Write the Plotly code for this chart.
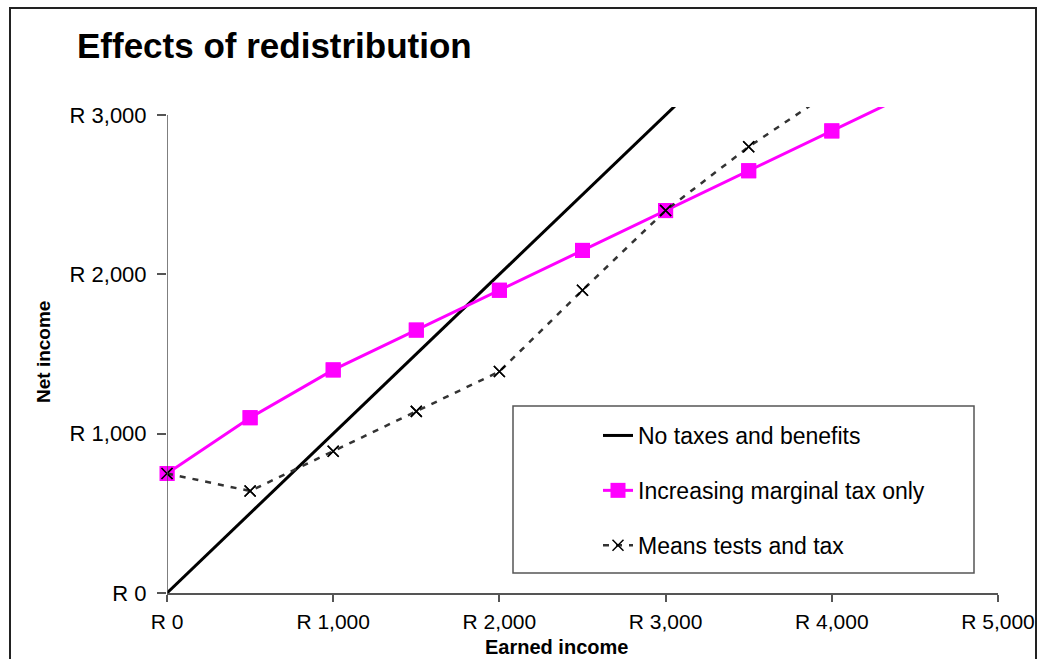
import plotly.graph_objects as go

# Earned income steps (Rand per month)
earned = [0, 500, 1000, 1500, 2000, 2500, 3000, 3500, 4000, 4500]

# Net income under each regime
no_taxes = [0, 500, 1000, 1500, 2000, 2500, 3000, 3500, 4000, 4500]
marginal_tax = [750, 1100, 1400, 1650, 1900, 2150, 2400, 2650, 2900, 3150]
means_tested = [750, 640, 890, 1140, 1390, 1900, 2400, 2800, 3150, 3500]

x_ticks = [0, 1000, 2000, 3000, 4000, 5000]
x_tick_text = ["R 0", "R 1,000", "R 2,000", "R 3,000", "R 4,000", "R 5,000"]
y_ticks = [0, 1000, 2000, 3000]
y_tick_text = ["R 0", "R 1,000", "R 2,000", "R 3,000"]

X_MAX = 5000
Y_MAX = 3050

FONT = "Liberation Sans, Arial, sans-serif"
PINK = "#FF00FF"
DASH_GREY = "#333333"

W, H = 1039, 659
ML, MR, MT, MB = 167, 41, 107, 66
PW, PH = W - ML - MR, H - MT - MB


def px_x(p):
    """Horizontal pixel -> paper fraction."""
    return (p - ML) / PW


def px_y(p):
    """Vertical pixel (from top) -> paper fraction."""
    return (H - MB - p) / PH


def inside(xs, ys):
    pts = [(a, b) for a, b in zip(xs, ys) if a <= X_MAX and b <= Y_MAX]
    return [p[0] for p in pts], [p[1] for p in pts]


fig = go.Figure()

fig.add_trace(go.Scatter(
    x=earned, y=no_taxes, mode="lines", name="No taxes and benefits",
    line=dict(color="black", width=3), legendgroup="a",
))

fig.add_trace(go.Scatter(
    x=earned, y=marginal_tax, mode="lines+markers",
    name="Increasing marginal tax only",
    line=dict(color=PINK, width=3),
    marker=dict(symbol="square", size=15, color=PINK, line=dict(width=0)),
    legendgroup="b",
))
mx, my = inside(earned, marginal_tax)
fig.add_trace(go.Scatter(
    x=mx, y=my, mode="markers", showlegend=False, cliponaxis=False,
    marker=dict(symbol="square", size=15, color=PINK, line=dict(width=0)),
    hoverinfo="skip",
))

fig.add_trace(go.Scatter(
    x=earned, y=means_tested, mode="lines+markers", name="Means tests and tax",
    line=dict(color=DASH_GREY, width=2.5, dash="6px,7px"),
    marker=dict(symbol="x-thin", size=11, color="black",
                line=dict(width=1.5, color="black")),
    legendgroup="c",
))
dx, dy = inside(earned, means_tested)
fig.add_trace(go.Scatter(
    x=dx, y=dy, mode="markers", showlegend=False, cliponaxis=False,
    marker=dict(symbol="x-thin", size=11, color="black",
                line=dict(width=1.5, color="black")),
    hoverinfo="skip",
))

axis_common = dict(
    showgrid=False, zeroline=False, ticks="outside",
    tickcolor="#555555", tickwidth=1.5,
    fixedrange=True, automargin=False,
)

fig.update_xaxes(
    range=[0, X_MAX], tickvals=x_ticks, ticktext=x_tick_text,
    showline=True, linecolor="#555555", linewidth=1.5, ticklen=7,
    ticklabelstandoff=2,
    tickfont=dict(family=FONT, size=21, color="black"),
    **axis_common,
)
fig.update_yaxes(
    range=[0, Y_MAX], tickvals=y_ticks, ticktext=y_tick_text,
    showline=False, ticklen=9, ticklabelstandoff=6,
    tickfont=dict(family=FONT, size=22, color="black"),
    **axis_common,
)

shapes = [
    # y axis line running up to the last tick only
    dict(type="line", xref="x", yref="y", x0=0, x1=0, y0=0, y1=max(y_ticks),
         line=dict(color="#555555", width=1.5), layer="above"),
    # legend frame
    dict(type="rect", xref="paper", yref="paper",
         x0=px_x(513), x1=px_x(974), y0=px_y(573), y1=px_y(406),
         line=dict(color="#555555", width=1.5), fillcolor="rgba(0,0,0,0)",
         layer="below"),
    # chart frame
    dict(type="rect", xref="paper", yref="paper",
         x0=px_x(10), x1=px_x(1036), y0=px_y(700), y1=px_y(8),
         line=dict(color="#222222", width=2), fillcolor="rgba(0,0,0,0)"),
]

annotations = [
    dict(text="<b>Earned income</b>", xref="paper", yref="paper",
         x=px_x(556), y=px_y(647), xanchor="center", yanchor="middle",
         showarrow=False, font=dict(family=FONT, size=20, color="black")),
    dict(text="<b>Net income</b>", xref="paper", yref="paper",
         x=px_x(43), y=px_y(352), xanchor="center", yanchor="middle",
         textangle=-90, showarrow=False,
         font=dict(family=FONT, size=19, color="black")),
]

fig.update_layout(
    width=W, height=H, autosize=False,
    margin=dict(l=ML, r=MR, t=MT, b=MB, pad=0),
    paper_bgcolor="white", plot_bgcolor="white",
    title=dict(
        text="<b>Effects of redistribution</b>",
        font=dict(family=FONT, size=35, color="black"),
        xref="container", yref="container",
        x=77 / W, xanchor="left", y=1 - 46 / H, yanchor="middle",
    ),
    showlegend=True,
    legend=dict(
        x=px_x(598), y=px_y(414), xanchor="left", yanchor="top",
        bgcolor="rgba(0,0,0,0)", borderwidth=0,
        font=dict(family=FONT, size=23, color="black"),
        traceorder="grouped", tracegroupgap=22,
    ),
    shapes=shapes,
    annotations=annotations,
)

fig.write_html("out.html")
